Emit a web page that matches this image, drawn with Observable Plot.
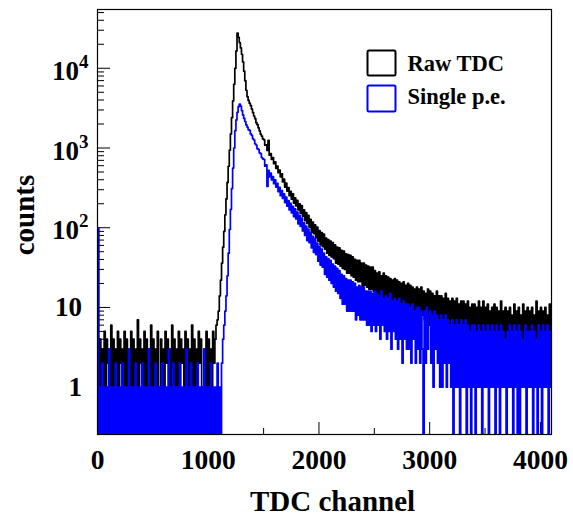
<!DOCTYPE html>
<html><head><meta charset="utf-8">
<script src="https://cdn.jsdelivr.net/npm/d3@7"></script>
<script src="https://cdn.jsdelivr.net/npm/@observablehq/plot@0.6"></script>
<style>
html,body{margin:0;padding:0;background:#fff;}
#chart{width:573px;height:519px;}
</style></head><body>
<div id="chart"></div>
<script>
// ---- data: counts per 10-channel bin (bin i covers channels 10*i .. 10*i+10) ----
const binWidth = 10;

// Raw TDC (black)
const rawBaseline = [100, 1, 4, 1, 3, 0, 5, 1, 4, 2,
 3, 1, 6, 1, 4, 0, 3, 1, 5, 1,
 4, 2, 3, 0, 5, 1, 4, 1, 3, 1,
 5, 0, 4, 1, 3, 1, 7, 1, 4, 2,
 3, 1, 5, 0, 4, 1, 3, 1, 6, 1,
 4, 1, 3, 0, 5, 1, 0, 4, 1, 3,
 1, 5, 2, 4, 0, 3, 1, 6, 1, 4,
 1, 3, 0, 5, 1, 4, 2, 3, 1, 5,
 0, 4, 1, 3, 1, 6, 1, 4, 0, 3,
 1, 5, 2, 4, 1, 0, 3, 1, 5, 1,
 4, 0, 3, 1, 5, 2, 4, 6];
const rawPeak = [7, 9, 14, 22, 36, 57, 90, 145, 230, 370,
 590, 940, 1500, 2400, 3900, 6300, 10000, 16500, 27700, 24500,
 21000, 18000, 15000, 12000, 9200, 7000, 5300, 4400, 3950, 3650,
 3400, 3080, 2780, 2520, 2330, 2080, 1960, 1790, 1640, 1490,
 1410, 1300];
const rawTail = [1272, 1083, 1092, 933, 1250, 813, 850, 719, 760, 636,
 668, 556, 591, 491, 528, 435, 473, 375, 407, 323,
 364, 288, 319, 252, 286, 228, 266, 204, 237, 188,
 221, 167, 200, 152, 189, 140, 168, 123, 155, 113,
 143, 102, 127, 88, 118, 84, 109, 75, 102, 68,
 92, 61, 87, 58, 83, 54, 74, 48, 71, 45,
 68, 43, 65, 41, 61, 36, 57, 35, 56, 33,
 52, 31, 51, 30, 47, 27, 46, 27, 45, 25,
 43, 24, 40, 22, 39, 21, 39, 21, 36, 18,
 36, 19, 34, 18, 33, 17, 32, 17, 32, 16];
const rawFar = [29, 15, 27, 12, 28, 14, 25, 12, 27, 13,
 25, 12, 24, 11, 23, 12, 22, 10, 23, 11,
 22, 10, 21, 11, 20, 9, 21, 10, 19, 9,
 20, 9, 19, 8, 18, 9, 17, 8, 18, 8,
 17, 7, 18, 8, 16, 7, 15, 8, 17, 6,
 16, 6, 15, 7, 14, 6, 16, 7, 14, 5,
 14, 5, 13, 6, 15, 5, 13, 6, 12, 5,
 13, 5, 12, 4, 13, 5, 11, 4, 12, 5,
 12, 4, 11, 5, 12, 4, 10, 4, 11, 4,
 11, 4, 10, 3, 12, 4, 10, 4, 12, 3,
 10, 3, 11, 4, 9, 3, 10, 4, 11, 3,
 10, 4, 9, 3, 12, 3, 9, 4, 10, 3,
 9, 3, 10, 4, 8, 3, 11, 3, 9, 4,
 10, 3, 8, 3, 11, 4, 9, 3, 10, 3,
 9, 3, 10, 3, 8, 4, 12, 3, 9, 3,
 10, 3, 9, 4, 10, 3, 8, 3, 11, 4];

// Single p.e. (blue)
const speBaseline = [100, 0, 1, 0, 2, 0, 1, 0, 1, 0,
 3, 0, 1, 0, 1, 0, 2, 0, 1, 0,
 1, 0, 2, 0, 1, 0, 1, 0, 3, 0,
 1, 0, 1, 0, 2, 0, 1, 0, 1, 0,
 2, 0, 1, 0, 1, 0, 3, 0, 1, 0,
 1, 0, 2, 0, 1, 0, 1, 0, 2, 0,
 1, 0, 1, 0, 3, 0, 1, 0, 2, 0,
 1, 0, 1, 0, 2, 0, 1, 0, 1, 0,
 3, 0, 1, 0, 2, 0, 1, 0, 1, 0,
 2, 0, 1, 0, 1, 0, 3, 0, 1, 0,
 1, 0, 2, 0, 1, 0, 1, 0, 2, 0,
 1, 0, 2];
const spePeak = [4, 6, 9, 14, 25, 48, 95, 170, 310, 560,
 1000, 1650, 2250, 2800, 3300, 3560, 3350, 2950, 2600, 2350,
 2150, 1950, 1830, 1700, 1660, 1500, 1440, 1310, 1260, 1130,
 1090, 980, 960, 870, 850, 760, 730];
const speTail = [719, 590, 614, 330, 523, 435, 486, 399, 438, 356,
 399, 324, 361, 284, 320, 252, 293, 233, 267, 207,
 242, 186, 219, 167, 202, 154, 186, 138, 172, 129,
 157, 112, 143, 104, 132, 91, 115, 80, 105, 69,
 96, 65, 86, 56, 78, 49, 73, 46, 64, 38,
 58, 34, 54, 32, 48, 26, 43, 24, 41, 22,
 39, 20, 35, 18, 33, 16, 31, 15, 29, 13,
 26, 11, 25, 11, 23, 9, 22, 9, 22, 9,
 21, 9, 20, 7, 18, 8, 19, 7, 18, 7,
 18, 7, 16, 6, 16, 6, 16, 5, 15, 6];
const speFar = [16, 5, 15, 6, 14, 4, 16, 6, 13, 5,
 14, 4, 13, 5, 15, 3, 12, 5, 13, 4,
 12, 3, 13, 4, 11, 2, 12, 4, 11, 3,
 11, 3, 10, 2, 11, 4, 9, 2, 10, 3,
 10, 2, 9, 3, 0, 9, 2, 10, 3, 8,
 9, 2, 8, 1, 9, 3, 8, 2, 7, 1,
 8, 1, 7, 2, 8, 1, 7, 2, 6, 1,
 7, 0, 6, 1, 7, 1, 6, 0, 7, 1,
 6, 1, 7, 0, 6, 1, 5, 0, 6, 1,
 6, 0, 5, 1, 6, 1, 5, 0, 6, 1,
 5, 1, 6, 0, 5, 1, 6, 1, 5, 0,
 6, 1, 5, 0, 6, 1, 5, 1, 4, 0,
 5, 1, 6, 1, 5, 0, 6, 1, 5, 0,
 6, 0, 5, 1, 4, 1, 6, 0, 5, 1,
 5, 1, 6, 0, 5, 1, 4, 0, 6, 1,
 5, 0, 6, 1, 5, 1, 6, 0, 5, 1];

const seriesNames = ["Raw TDC", "Single p.e."];
const seriesColors = ["#000000", "#0000ff"];

// ---- axes ----
const xDomain = [0, 4100];
const yDomain = [0.255, 54600];
const xTickValues = [0, 1000, 2000, 3000, 4000];
const xMinorValues = [500, 1500, 2500, 3500];
const yTickValues = [1, 10, 100, 1000, 10000];
const yTickLabels = ["1", "10", "10^2", "10^3", "10^4"];
const xTitle = "TDC channel";
const yTitle = "counts";

const toRows = (vals) => vals.map((v, i) => ({ch: i * binWidth + binWidth / 2, v}));
const raw = toRows([...rawBaseline, ...rawPeak, ...rawTail, ...rawFar]);
const spe = toRows([...speBaseline, ...spePeak, ...speTail, ...speFar]);

const yMinorValues = [];
for (let e = -1; e <= 4; e++) for (let m = 2; m <= 9; m++) {
  const v = m * Math.pow(10, e);
  if (v > yDomain[0] && v < yDomain[1]) yMinorValues.push(v);
}

const W = 573, H = 519, mL = 97, mR = 22, mT = 9, mB = 85;
const pW = W - mL - mR, pH = H - mT - mB;
const FONT = "'Liberation Serif', 'Times New Roman', serif";
const yv = d => (d.v > 0 ? d.v : 0.01);

const svg = Plot.plot({
  width: W, height: H,
  marginLeft: mL, marginRight: mR, marginTop: mT, marginBottom: mB,
  x: {type: "linear", domain: xDomain},
  y: {type: "log", domain: yDomain},
  style: {background: "#fff", color: "#000", fontFamily: FONT, overflow: "visible"},
  marks: [
    Plot.tickY(yMinorValues, {y: d => d, insetRight: pW - 7, stroke: "#000", strokeWidth: 1}),
    Plot.tickY(yTickValues, {y: d => d, insetRight: pW - 13, stroke: "#000", strokeWidth: 1}),
    Plot.tickX(xMinorValues, {x: d => d, insetTop: pH - 6, stroke: "#000", strokeWidth: 1}),
    Plot.tickX(xTickValues, {x: d => d, insetTop: pH - 12, stroke: "#000", strokeWidth: 1}),
    Plot.line(raw, {x: "ch", y: yv, curve: "step", stroke: seriesColors[0], strokeWidth: 1.7, clip: true}),
    Plot.line(spe, {x: "ch", y: yv, curve: "step", stroke: seriesColors[1], strokeWidth: 1.7, clip: true}),
    Plot.frame({stroke: "#000", strokeWidth: 1.2}),
    Plot.axisX(xTickValues, {tickSize: 0, tickPadding: 15, tickFormat: d => String(d), fontSize: 27.5, fontWeight: "bold", fontFamily: FONT, label: null}),
    Plot.axisY(yTickValues, {tickSize: 0, tickPadding: 9, tickFormat: d => yTickLabels[yTickValues.indexOf(d)], fontSize: 27, fontWeight: "bold", fontFamily: FONT, label: null}),
    Plot.text([xTitle], {frameAnchor: "bottom", text: d => d, dx: 8, dy: 76, textAnchor: "middle", lineAnchor: "bottom", fontSize: 29, fontWeight: "bold", fontFamily: FONT}),
    Plot.text([yTitle], {frameAnchor: "left", text: d => d, rotate: -90, dx: -64, dy: -7, textAnchor: "middle", lineAnchor: "bottom", fontSize: 29, fontWeight: "bold", fontFamily: FONT}),
    // legend
    Plot.frame({insetLeft: 270, insetRight: 156, insetTop: 41, insetBottom: 359, stroke: seriesColors[0], strokeWidth: 2, rx: 1.5}),
    Plot.frame({insetLeft: 270, insetRight: 156, insetTop: 76, insetBottom: 323, stroke: seriesColors[1], strokeWidth: 2, rx: 1.5}),
    Plot.text([seriesNames[0]], {frameAnchor: "top-left", text: d => d, dx: 310, dy: 61, textAnchor: "start", lineAnchor: "bottom", fontSize: 22.5, fontWeight: "bold", fontFamily: FONT}),
    Plot.text([seriesNames[1]], {frameAnchor: "top-left", text: d => d, dx: 310, dy: 94.5, textAnchor: "start", lineAnchor: "bottom", fontSize: 22.5, fontWeight: "bold", fontFamily: FONT})
  ]
});

// superscript exponents on the log-axis labels
const NS = "http://www.w3.org/2000/svg";
svg.querySelectorAll('[aria-label="y-axis tick label"] text').forEach(t => {
  const s = t.textContent;
  if (s.includes("^")) {
    const [b, e] = s.split("^");
    t.textContent = "";
    const t1 = document.createElementNS(NS, "tspan");
    t1.textContent = b; t1.setAttribute("dy", "3");
    const t2 = document.createElementNS(NS, "tspan");
    t2.textContent = e; t2.setAttribute("dy", "-12"); t2.setAttribute("font-size", "19");
    t.append(t1, t2);
  } else {
    t.setAttribute("dx", "-6.5");
  }
});

document.getElementById("chart").append(svg);
</script>
</body></html>
